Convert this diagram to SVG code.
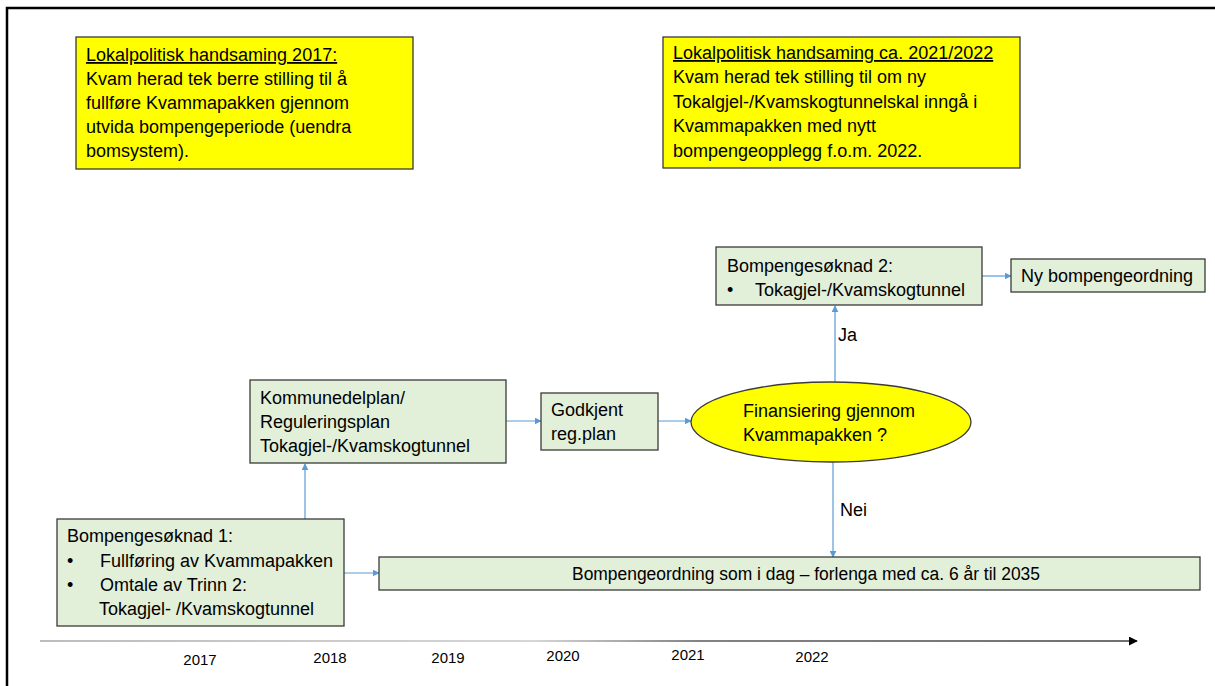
<svg xmlns="http://www.w3.org/2000/svg" width="1215" height="686" viewBox="0 0 1215 686">
<style>
text{font-family:"Liberation Sans",Arial,sans-serif;font-size:18px;fill:#000}
.note{fill:#ffff00;stroke:#3a3a3a;stroke-width:1.3}
.box{fill:#e2efd9;stroke:#3a3a3a;stroke-width:1.3}
.conn{stroke:#5b9bd5;stroke-width:1.2;fill:none}
.yr{font-size:15px;text-anchor:middle}
</style>
<defs>
<marker id="ab" viewBox="0 0 10 10" refX="9" refY="5" markerWidth="7" markerHeight="7" orient="auto" markerUnits="userSpaceOnUse"><path d="M0,0 L10,5 L0,10 z" fill="#5b9bd5"/></marker>
<marker id="ak" viewBox="0 0 10 10" refX="9" refY="5" markerWidth="9" markerHeight="9" orient="auto" markerUnits="userSpaceOnUse"><path d="M0,0 L10,5 L0,10 z" fill="#000"/></marker>
<linearGradient id="tl" gradientUnits="userSpaceOnUse" x1="40" y1="0" x2="1137" y2="0"><stop offset="0" stop-color="#a6a6a6"/><stop offset="0.45" stop-color="#c8c8c8"/><stop offset="0.6" stop-color="#595959"/><stop offset="1" stop-color="#404040"/></linearGradient>
</defs>
<rect width="1215" height="686" fill="#fff"/>
<path d="M7,686 V8 H1215" fill="none" stroke="#000" stroke-width="2.5"/>

<g id="connectors">
<line class="conn" x1="305" y1="519" x2="305" y2="464" marker-end="url(#ab)"/>
<line class="conn" x1="344" y1="573" x2="379" y2="573" marker-end="url(#ab)"/>
<line class="conn" x1="506" y1="421" x2="541" y2="421" marker-end="url(#ab)"/>
<line class="conn" x1="658" y1="421" x2="691" y2="421" marker-end="url(#ab)"/>
<line class="conn" x1="835" y1="382" x2="835" y2="306" marker-end="url(#ab)"/>
<line class="conn" x1="982" y1="276" x2="1011" y2="276" marker-end="url(#ab)"/>
<line class="conn" x1="833" y1="462" x2="833" y2="557" marker-end="url(#ab)"/>
<text x="838" y="341">Ja</text>
<text x="840" y="516">Nei</text>
</g>

<g id="note2017">
<rect class="note" x="76" y="37" width="337" height="132"/>
<text x="86" y="61" text-decoration="underline">Lokalpolitisk handsaming 2017:</text>
<text x="86" y="85">Kvam herad tek berre stilling til å</text>
<text x="86" y="109">fullføre Kvammapakken gjennom</text>
<text x="86" y="133">utvida bompengeperiode (uendra</text>
<text x="86" y="157">bomsystem).</text>
</g>

<g id="note2021">
<rect class="note" x="663" y="37" width="357" height="131"/>
<text x="673" y="59" text-decoration="underline">Lokalpolitisk handsaming ca. 2021/2022</text>
<text x="673" y="83">Kvam herad tek stilling til om ny</text>
<text x="673" y="108">Tokalgjel-/Kvamskogtunnelskal inngå i</text>
<text x="673" y="132">Kvammapakken med nytt</text>
<text x="673" y="157">bompengeopplegg f.o.m. 2022.</text>
</g>

<g id="soknad2">
<rect class="box" x="716" y="247" width="266" height="58"/>
<text x="727" y="272">Bompengesøknad 2:</text>
<text x="727" y="296">•</text>
<text x="755" y="296">Tokagjel-/Kvamskogtunnel</text>
</g>

<g id="nyordning">
<rect class="box" x="1011" y="259" width="194" height="33"/>
<text x="1021" y="282">Ny bompengeordning</text>
</g>

<g id="kommunedelplan">
<rect class="box" x="250" y="380" width="256" height="83"/>
<text x="260" y="404">Kommunedelplan/</text>
<text x="260" y="428">Reguleringsplan</text>
<text x="260" y="452">Tokagjel-/Kvamskogtunnel</text>
</g>

<g id="godkjent">
<rect class="box" x="541" y="393" width="117" height="57"/>
<text x="551" y="416">Godkjent</text>
<text x="551" y="440">reg.plan</text>
</g>

<g id="finansiering">
<ellipse cx="831" cy="422" rx="140" ry="40" fill="#ffff00" stroke="#3a3a3a" stroke-width="1.3"/>
<text x="743" y="417">Finansiering gjennom</text>
<text x="743" y="441">Kvammapakken ?</text>
</g>

<g id="soknad1">
<rect class="box" x="57" y="519" width="287" height="107"/>
<text x="67" y="542">Bompengesøknad 1:</text>
<text x="67" y="567">•</text>
<text x="100" y="567">Fullføring av Kvammapakken</text>
<text x="67" y="591">•</text>
<text x="100" y="591">Omtale av Trinn 2:</text>
<text x="99" y="615">Tokagjel- /Kvamskogtunnel</text>
</g>

<g id="bompengeordning">
<rect class="box" x="379" y="557" width="821" height="33"/>
<text x="572" y="580" textLength="468" lengthAdjust="spacingAndGlyphs">Bompengeordning som i dag – forlenga med ca. 6 år til 2035</text>
</g>

<g id="timeline">
<line x1="40" y1="641" x2="1137" y2="641" stroke="url(#tl)" stroke-width="1.3" marker-end="url(#ak)"/>
<text class="yr" x="200" y="665">2017</text>
<text class="yr" x="330" y="663">2018</text>
<text class="yr" x="448" y="663">2019</text>
<text class="yr" x="563" y="661">2020</text>
<text class="yr" x="688" y="660">2021</text>
<text class="yr" x="812" y="662">2022</text>
</g>
</svg>
